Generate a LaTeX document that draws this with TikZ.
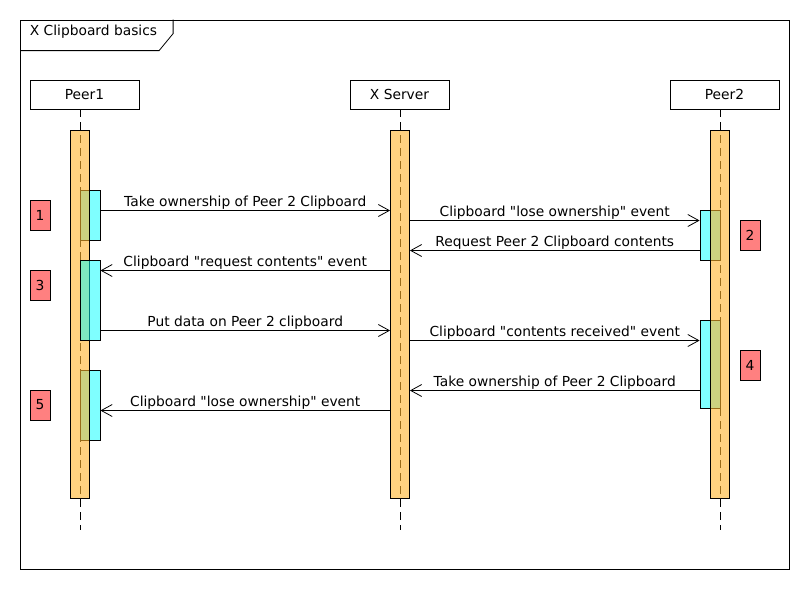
\documentclass[tikz,border=0pt]{standalone}
\usepackage{fontspec}
\setmainfont{DejaVu Sans}[Ligatures=TeXOff]
\usetikzlibrary{arrows.meta}

\definecolor{barfill}{RGB}{255,180,43}
\definecolor{actfill}{RGB}{0,255,255}
\definecolor{notefill}{RGB}{255,128,128}

\begin{document}
\begin{tikzpicture}[x=1pt, y=-1pt, line width=0.8pt, font=\fontsize{13.8}{16}\selectfont]
\useasboundingbox (0,0) rectangle (810,590);

\tikzset{every node/.style={draw, rectangle, inner sep=0pt, line width=0.8pt}}
\tikzset{head/.style={fill=white, minimum width=109pt, minimum height=29pt}}
\tikzset{bar/.style={fill=barfill, fill opacity=0.6, text opacity=1, minimum width=19pt, minimum height=368pt}}
\tikzset{act/.style={fill=actfill, fill opacity=0.5, text opacity=1, minimum width=20pt}}
\tikzset{note/.style={fill=notefill, minimum width=20pt, minimum height=30pt}}
\tikzset{lifeline/.style={dash pattern=on 8pt off 5pt}}

% frame and title
\node (frame) at (405,294.5) [minimum width=769pt, minimum height=549pt] {};
\draw (frame.north west) ++(0,31) -- ++(139,0) -- ++(14,-17) -- ++(0,-14);
\node (title) at (93.5,32) [draw=none] {X Clipboard basics};

% lifelines
\node (peer1) at (84.5,94.5) [head] {Peer1};
\node (server) at (399.5,94.5) [head, minimum width=99pt] {X Server};
\node (peer2) at (724.5,94.5) [head] {Peer2};
\coordinate (end1) at (80,530);
\coordinate (end2) at (400,530);
\coordinate (end3) at (720,530);
\draw [lifeline] (peer1.south -| end1) -- (end1);
\draw [lifeline] (server.south -| end2) -- (end2);
\draw [lifeline] (peer2.south -| end3) -- (end3);

% activations under the bars
\node (act1) at (90,215) [act, minimum height=50pt] {};
\node (act5) at (90,405) [act, minimum height=70pt] {};
\node (act2) at (710,235) [act, minimum height=50pt] {};
\node (act4) at (710,364) [act, minimum height=88pt] {};

\node (bar1) at (80,314) [bar] {};
\node (bar2) at (400,314) [bar] {};
\node (bar3) at (720,314) [bar] {};

\node (act3) at (90,300) [act, minimum height=80pt] {};

% notes
\node (n1) at (40,215) [note] {1};
\node (n3) at (40,285) [note] {3};
\node (n5) at (40,405) [note] {5};
\node (n2) at (750,235) [note] {2};
\node (n4) at (750,365) [note] {4};

% messages
\tikzset{msg/.style={-{Straight Barb[length=11pt, width=12pt]}}}
\tikzset{lbl/.style={draw=none, above=1pt}}
\path (act1.east |- 0,210.5) edge [msg] node [lbl] {Take ownership of Peer 2 Clipboard} (bar2.west |- 0,210.5);
\path (bar2.east |- 0,220.5) edge [msg] node [lbl] {Clipboard "lose ownership" event} (act2.west |- 0,220.5);
\path (act2.west |- 0,250.5) edge [msg] node [lbl] {Request Peer 2 Clipboard contents} (bar2.east |- 0,250.5);
\path (bar2.west |- 0,270.5) edge [msg] node [lbl] {Clipboard "request contents" event} (act3.east |- 0,270.5);
\path (act3.east |- 0,330.5) edge [msg] node [lbl] {Put data on Peer 2 clipboard} (bar2.west |- 0,330.5);
\path (bar2.east |- 0,340.5) edge [msg] node [lbl] {Clipboard "contents received" event} (act4.west |- 0,340.5);
\path (act4.west |- 0,390.5) edge [msg] node [lbl] {Take ownership of Peer 2 Clipboard} (bar2.east |- 0,390.5);
\path (bar2.west |- 0,410.5) edge [msg] node [lbl] {Clipboard "lose ownership" event} (act5.east |- 0,410.5);
\end{tikzpicture}
\end{document}
